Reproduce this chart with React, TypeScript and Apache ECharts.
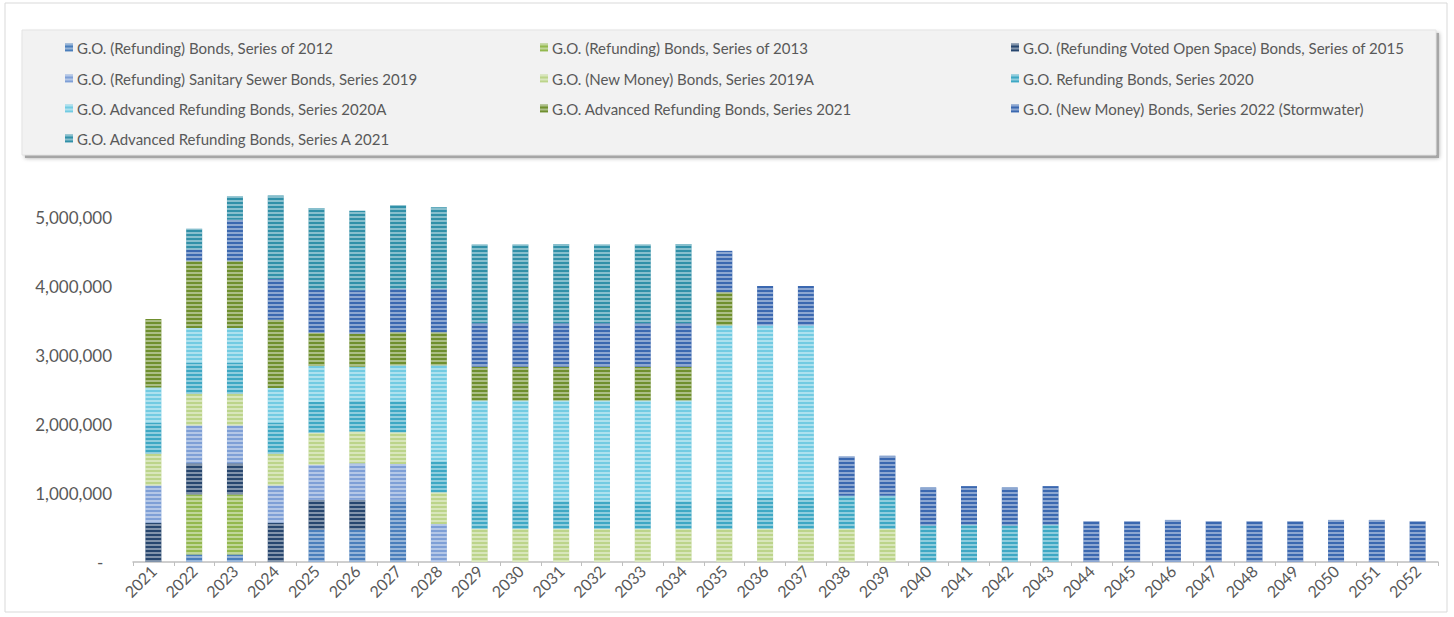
import React, { useEffect, useRef } from "react";
import * as echarts from "echarts";

const years = [
  "2021", "2022", "2023", "2024", "2025", "2026", "2027", "2028", "2029", "2030",
  "2031", "2032", "2033", "2034", "2035", "2036", "2037", "2038", "2039", "2040",
  "2041", "2042", "2043", "2044", "2045", "2046", "2047", "2048", "2049", "2050",
  "2051", "2052",
];

const seriesNames = [
  "G.O. (Refunding) Bonds, Series of 2012",
  "G.O. (Refunding) Bonds, Series of 2013",
  "G.O. (Refunding Voted Open Space) Bonds, Series of 2015",
  "G.O. (Refunding) Sanitary Sewer Bonds, Series 2019",
  "G.O. (New Money) Bonds, Series 2019A",
  "G.O. Refunding Bonds, Series 2020",
  "G.O. Advanced Refunding Bonds, Series 2020A",
  "G.O. Advanced Refunding Bonds, Series 2021",
  "G.O. (New Money) Bonds, Series 2022 (Stormwater)",
  "G.O. Advanced Refunding Bonds, Series A 2021",
];

const seriesColors = [
  "#4a7ebb", "#93b84e", "#27466e", "#7e9fd6", "#bcd48a",
  "#3ea8c4", "#72cbe2", "#6f8f2e", "#3b68b0", "#3190a8",
];

// values in dollars, 2021..2052
const s2012 = [0, 110000, 110000, 0, 470000, 470000, 900000, 0, 0, 0, 0, 0, 0, 0, 0, 0, 0, 0, 0, 0, 0, 0, 0, 0, 0, 0, 0, 0, 0, 0, 0, 0];
const s2013 = [0, 870000, 870000, 0, 0, 0, 0, 0, 0, 0, 0, 0, 0, 0, 0, 0, 0, 0, 0, 0, 0, 0, 0, 0, 0, 0, 0, 0, 0, 0, 0, 0];
const s2015 = [570000, 450000, 450000, 570000, 430000, 430000, 0, 0, 0, 0, 0, 0, 0, 0, 0, 0, 0, 0, 0, 0, 0, 0, 0, 0, 0, 0, 0, 0, 0, 0, 0, 0];
const sSewer2019 = [540000, 550000, 550000, 540000, 510000, 530000, 520000, 550000, 0, 0, 0, 0, 0, 0, 0, 0, 0, 0, 0, 0, 0, 0, 0, 0, 0, 0, 0, 0, 0, 0, 0, 0];
const s2019A = [460000, 460000, 460000, 460000, 460000, 460000, 460000, 460000, 480000, 480000, 480000, 480000, 480000, 480000, 480000, 480000, 480000, 480000, 480000, 0, 0, 0, 0, 0, 0, 0, 0, 0, 0, 0, 0, 0];
const s2020 = [450000, 450000, 450000, 450000, 450000, 450000, 450000, 450000, 400000, 400000, 400000, 400000, 400000, 400000, 450000, 450000, 450000, 480000, 480000, 530000, 540000, 530000, 540000, 0, 0, 0, 0, 0, 0, 0, 0, 0];
const s2020A = [510000, 500000, 500000, 500000, 520000, 490000, 520000, 1390000, 1460000, 1460000, 1460000, 1460000, 1460000, 1460000, 2500000, 2500000, 2500000, 0, 0, 0, 0, 0, 0, 0, 0, 0, 0, 0, 0, 0, 0, 0];
const sAdv2021 = [990000, 970000, 970000, 990000, 480000, 480000, 480000, 480000, 490000, 490000, 490000, 490000, 490000, 490000, 480000, 0, 0, 0, 0, 0, 0, 0, 0, 0, 0, 0, 0, 0, 0, 0, 0, 0];
const s2022 = [0, 170000, 600000, 590000, 630000, 630000, 630000, 630000, 630000, 630000, 630000, 630000, 630000, 630000, 600000, 570000, 570000, 570000, 580000, 550000, 560000, 550000, 560000, 590000, 590000, 610000, 590000, 590000, 590000, 610000, 610000, 590000];
const sAdvA2021 = [0, 300000, 340000, 1210000, 1180000, 1150000, 1210000, 1180000, 1140000, 1140000, 1150000, 1140000, 1140000, 1150000, 0, 0, 0, 0, 0, 0, 0, 0, 0, 0, 0, 0, 0, 0, 0, 0, 0, 0];

const seriesValues = [s2012, s2013, s2015, sSewer2019, s2019A, s2020, s2020A, sAdv2021, s2022, sAdvA2021];

// legend layout: [series index, left, top]
const legendSlots: [number, number, number][] = [
  [0, 65, 40], [1, 540, 40], [2, 1011, 40],
  [3, 65, 71], [4, 540, 71], [5, 1011, 71],
  [6, 65, 101], [7, 540, 101], [8, 1011, 101],
  [9, 65, 131],
];

const FONT = "Lato, 'Open Sans', sans-serif";

export default function App() {
  const ref = useRef<HTMLDivElement>(null);
  useEffect(() => {
    if (!ref.current) return;
    const chart = echarts.init(ref.current, undefined, { renderer: "svg" });
    const decal = {
      symbol: "rect",
      symbolSize: 1,
      dashArrayX: [1, 0],
      dashArrayY: [1.2, 2],
      color: "rgba(255,255,255,0.42)",
      rotation: 0,
    };
    const option: any = {
      animation: false,
      backgroundColor: "#ffffff",
      textStyle: { fontFamily: FONT },
      legend: legendSlots.map(([i, left, top]) => ({
        data: [seriesNames[i]],
        left,
        top,
        padding: 0,
        itemGap: 0,
        itemWidth: 8,
        itemHeight: 8,
        icon: "rect",
        selectedMode: false,
        z: 10,
        textStyle: { fontSize: 15, color: "#595959", fontFamily: FONT, padding: [0, 0, 0, -1] },
      })),
      graphic: [
        {
          type: "rect",
          z: 1,
          shape: { x: 5, y: 3, width: 1442, height: 609 },
          style: { fill: "none", stroke: "#d9d9d9", lineWidth: 1 },
          silent: true,
        },
        {
          type: "rect",
          z: 2,
          shape: { x: 25, y: 33, width: 1414, height: 125 },
          style: { fill: "#a6a6a6", shadowBlur: 4, shadowColor: "rgba(0,0,0,0.35)" },
          silent: true,
        },
        {
          type: "rect",
          z: 3,
          shape: { x: 22, y: 30, width: 1414, height: 125 },
          style: { fill: "#f2f2f2", stroke: "#e4e4e4", lineWidth: 1 },
          silent: true,
        },
      ],
      grid: { left: 133, right: 16, top: 148, bottom: 55, containLabel: false },
      xAxis: {
        type: "category",
        data: years,
        boundaryGap: true,
        axisLine: { show: true, lineStyle: { color: "#bfbfbf", width: 1.5 } },
        axisTick: { show: true, alignWithLabel: false, length: 4, lineStyle: { color: "#bfbfbf" } },
        axisLabel: { rotate: 45, color: "#595959", fontSize: 16, fontFamily: FONT, margin: 6, interval: 0 },
        splitLine: { show: false },
      },
      yAxis: {
        type: "value",
        min: 0,
        max: 6000000,
        interval: 1000000,
        axisLine: { show: false },
        axisTick: { show: false },
        splitLine: { show: false },
        axisLabel: {
          showMaxLabel: false,
          color: "#595959",
          fontSize: 17,
          fontFamily: FONT,
          margin: 21,
          formatter: (v: number) => (v === 0 ? "-  " : v.toLocaleString("en-US")),
        },
      },
      series: seriesNames.map((name, i) => ({
        name,
        type: "bar",
        stack: "total",
        barWidth: 16,
        data: seriesValues[i],
        itemStyle: { color: seriesColors[i], decal },
        emphasis: { disabled: true },
      })),
    };
    chart.setOption(option);
    return () => chart.dispose();
  }, []);
  return (
    <div
      ref={ref}
      style={{ position: "fixed", left: 0, top: 0, width: 1454, height: 617, background: "#fff" }}
    />
  );
}
